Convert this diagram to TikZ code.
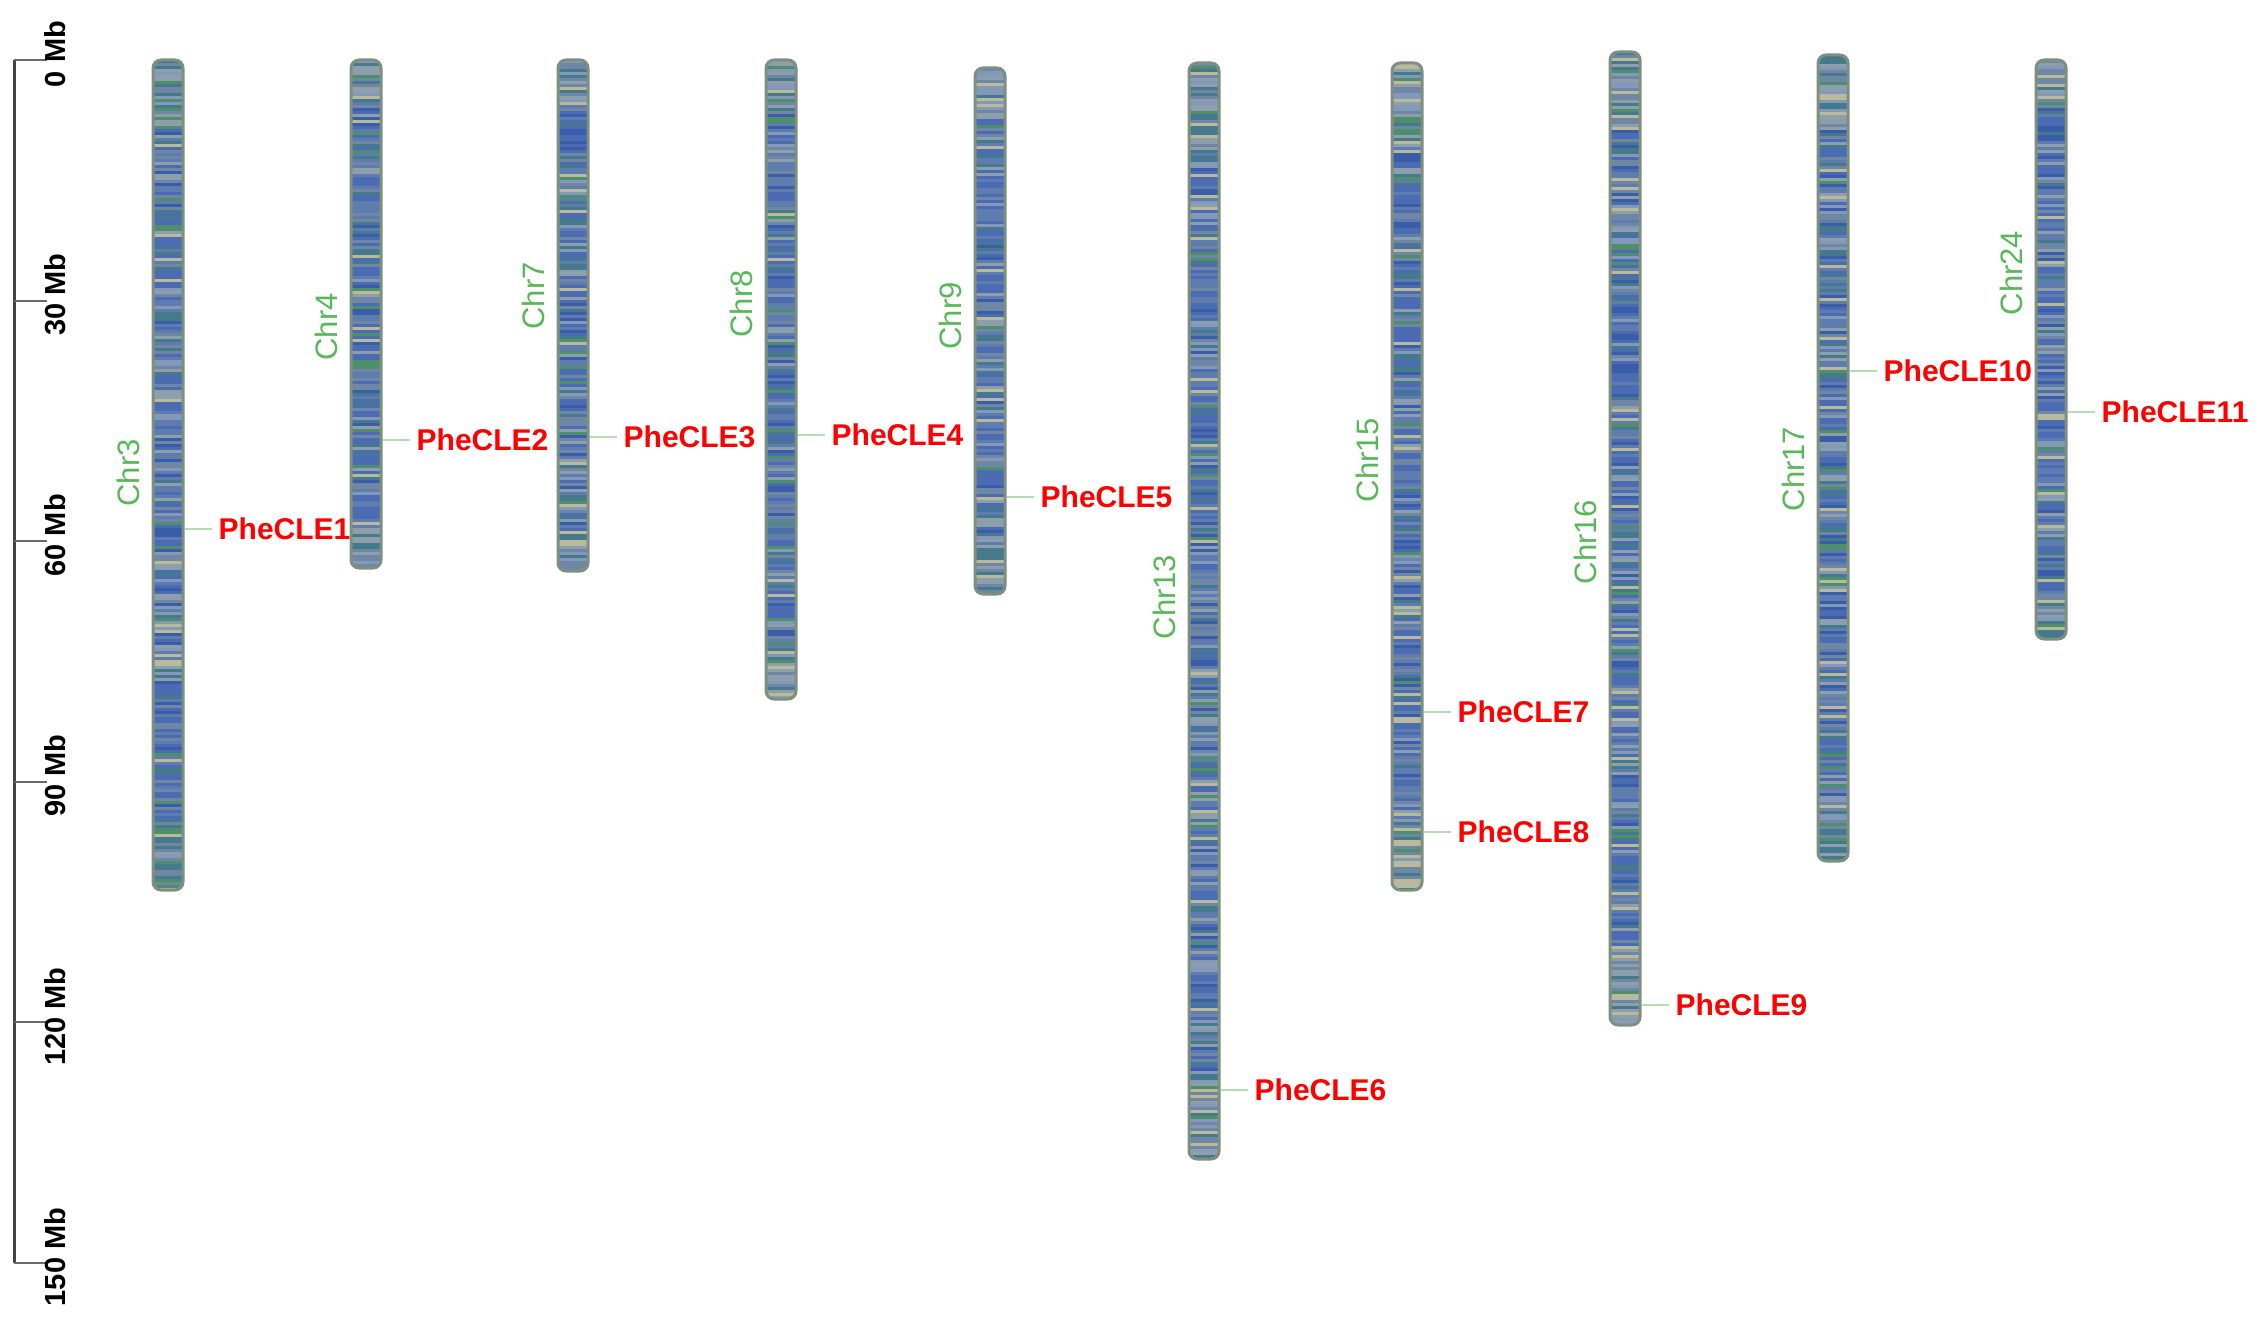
\documentclass[tikz,border=0pt]{standalone}
\usepackage{fontspec}
\setmainfont{Liberation Sans}
\definecolor{cDark}{HTML}{3A5DAA}
\definecolor{cBlue}{HTML}{4B6CB2}
\definecolor{cMid}{HTML}{5E7DAE}
\definecolor{cSlate}{HTML}{6F87A5}
\definecolor{cTeal}{HTML}{457A8C}
\definecolor{cGreen}{HTML}{4C8F6A}
\definecolor{cGray}{HTML}{8E9FAC}
\definecolor{cLight}{HTML}{8499BA}
\definecolor{cBeige}{HTML}{B9BA9C}
\definecolor{cBorder}{HTML}{7D8F80}
\definecolor{cRed}{HTML}{FF0000}
\definecolor{cChr}{HTML}{58B858}
\definecolor{cLink}{HTML}{B5DDB5}
\definecolor{cAxis}{HTML}{444444}
\newcommand\pickband[1]{%
 \ifnum#1<10 \def\bc{cDark}\else
 \ifnum#1<35 \def\bc{cBlue}\else
 \ifnum#1<55 \def\bc{cMid}\else
 \ifnum#1<66 \def\bc{cSlate}\else
 \ifnum#1<76 \def\bc{cTeal}\else
 \ifnum#1<80 \def\bc{cGreen}\else
 \ifnum#1<89 \def\bc{cGray}\else
 \ifnum#1<95 \def\bc{cLight}\else
 \def\bc{cBeige}\fi\fi\fi\fi\fi\fi\fi\fi}
\tikzset{
  chromframe/.style={draw=cBorder, line width=3pt, rounded corners=8pt, minimum width=30pt, inner sep=0pt, shape=rectangle},
  gene/.style={font=\fontsize{30}{36}\selectfont\bfseries, text=cRed, inner sep=0pt, anchor=west},
  chrlab/.style={font=\fontsize{31}{37}\selectfont, text=cChr, inner sep=0pt, rotate=90},
  ticklab/.style={font=\fontsize{29}{35}\selectfont\bfseries, text=black, inner sep=0pt, rotate=90},
  glink/.style={draw=cLink, line width=2.5pt, shorten >=7pt},
  tickline/.style={draw=cAxis!80, line width=2pt}
}
\newcommand\chromo[5]{%
  \pgfmathsetseed{#5}%
  \pgfmathtruncatemacro\nb{(#4-#3)/3}%
  \begin{scope}
    \clip[rounded corners=8pt] ({#2-15},#3) rectangle ({#2+15},#4);
    \foreach \i in {0,...,\nb}{%
      \pgfmathsetmacro\yy{#3+3*\i}%
      \pgfmathsetmacro\dd{min(\i,\nb-\i)/\nb}%
      \pgfmathrandominteger{\k}{0}{99}%
      \ifdim\dd pt<0.08pt \pgfmathtruncatemacro\k{55+\k*0.45}\fi
      \pickband{\k}%
      \fill[fill=\bc] ({#2-15},\yy) rectangle ({#2+15},{\yy+3.4});
    }
  \end{scope}
  \node[chromframe, minimum height={(#4-#3)*1pt}] (#1) at (#2,{(#3+#4)/2}) {};
}
\begin{document}
\begin{tikzpicture}[x=1pt,y=-1pt]
\fill[white] (0,0) rectangle (2261,1335);
\useasboundingbox (0,0) rectangle (2261,1335);
% axis
\coordinate (atop) at (14,60);
\coordinate (abot) at (14,1263);
\draw[cAxis, line width=3pt] (atop) -- (abot);
\foreach \t/\lab [count=\n from 0] in {0/0 Mb,30/30 Mb,60/60 Mb,90/90 Mb,120/120 Mb,150/150 Mb}{
  \pgfmathsetmacro\ty{60+\n*240.6}
  \coordinate (tk\n) at (14,\ty);
  \draw[tickline] (tk\n) -- ++(33,0);
  \node[ticklab] (tl\n) at (55,\ty-6) {\lab};
}
% chromosomes
\chromo{chr3}{168}{60}{890}{11}
\chromo{chr4}{366}{60}{568}{23}
\chromo{chr7}{573}{60}{571}{37}
\chromo{chr8}{781}{60}{699}{41}
\chromo{chr9}{990}{68}{594}{53}
\chromo{chr13}{1204}{63}{1159}{67}
\chromo{chr15}{1407}{63}{890}{71}
\chromo{chr16}{1625}{52}{1025}{83}
\chromo{chr17}{1833}{55}{861}{97}
\chromo{chr24}{2051}{60}{639}{101}
% chromosome labels
\node[chrlab] (lchr3) at (128,473) {Chr3};
\node[chrlab] (lchr4) at (326,327) {Chr4};
\node[chrlab] (lchr7) at (533,296) {Chr7};
\node[chrlab] (lchr8) at (741,304) {Chr8};
\node[chrlab] (lchr9) at (950,316) {Chr9};
\node[chrlab] (lchr13) at (1164,597) {Chr13};
\node[chrlab] (lchr15) at (1367,460) {Chr15};
\node[chrlab] (lchr16) at (1585,542) {Chr16};
\node[chrlab] (lchr17) at (1793,469) {Chr17};
\node[chrlab] (lchr24) at (2011,273) {Chr24};
% genes
\foreach \c/\g/\y/\lab in {chr3/g1/529/PheCLE1, chr4/g2/440/PheCLE2, chr7/g3/437/PheCLE3,
  chr8/g4/435/PheCLE4, chr9/g5/497/PheCLE5, chr13/g6/1090/PheCLE6, chr15/g7/712/PheCLE7,
  chr15/g8/832/PheCLE8, chr16/g9/1005/PheCLE9, chr17/g10/371/PheCLE10, chr24/g11/412/PheCLE11}{
  \path (\c.east) ++(34,0) coordinate (tmp);
  \node[gene] (\g) at (tmp |- 0,\y) {\lab};
  \draw[glink] (\c.east |- \g.west) -- (\g.west);
}
\end{tikzpicture}
\end{document}
